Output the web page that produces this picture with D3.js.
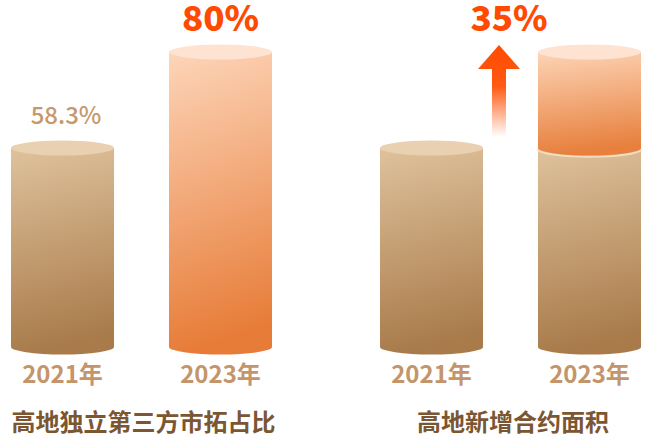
<!DOCTYPE html>
<html><head><meta charset="utf-8">
<script src="https://cdn.jsdelivr.net/npm/d3@7"></script>
<style>
html,body{margin:0;padding:0;background:#fff;}
svg{display:block;}
text{font-family:"Noto Sans CJK SC","Noto Sans",sans-serif;}
</style></head><body>
<svg id="chart" width="652" height="437"></svg>
<script>
// ---- data ----
const years = ["2021年", "2023年"];
const shareTitle = "高地独立第三方市拓占比";
const shareValues = [58.3, 80];
const shareLabels = ["58.3%", "80%"];
const areaTitle = "高地新增合约面积";
const areaValues = [100, 135];      // index, 2021 = 100
const areaGrowthLabel = "35%";

const svg = d3.select("#chart");
const defs = svg.append("defs");

function lin(id, stops) {
  const g = defs.append("linearGradient").attr("id", id)
    .attr("x1", 0).attr("y1", 0).attr("x2", 0.12).attr("y2", 1);
  stops.forEach(s => g.append("stop").attr("offset", s[0]).attr("stop-color", s[1]));
}
lin("tan", [[0, "#dfc29c"], [1, "#a97b4b"]]);
lin("orange", [[0, "#fdd5b9"], [1, "#e77c38"]]);
lin("orangeTop", [[0, "#fdd4b6"], [1, "#e7803d"]]);
defs.append("linearGradient").attr("id", "arrowGrad")
  .attr("x1", 0).attr("y1", 0).attr("x2", 0).attr("y2", 1)
  .call(g => {
    g.append("stop").attr("offset", 0).attr("stop-color", "#ff4a00");
    g.append("stop").attr("offset", 0.45).attr("stop-color", "#ff5a14");
    g.append("stop").attr("offset", 1).attr("stop-color", "#ffffff");
  });

const baseY = 347, topY = 52, ry = 7.5;
const labelColor = "#c4956a";
const titleColor = "#7b5632";

function cylinderBody(x0, x1, yTop, yBot, fill) {
  const rx = (x1 - x0) / 2;
  svg.append("path")
    .attr("d", `M${x0},${yTop} L${x0},${yBot} A${rx},${ry} 0 0 0 ${x1},${yBot} L${x1},${yTop} Z`)
    .attr("fill", fill);
}
function topCap(x0, x1, y, fill) {
  svg.append("ellipse").attr("cx", (x0 + x1) / 2).attr("cy", y)
    .attr("rx", (x1 - x0) / 2).attr("ry", ry).attr("fill", fill);
}
function yearLabel(x, t) {
  svg.append("text").attr("x", x).attr("y", 383)
    .attr("text-anchor", "middle").attr("font-size", 24).attr("font-weight", 700)
    .attr("fill", labelColor).text(t);
}

// ---------- left panel ----------
const xL = d3.scaleBand().domain(years).range([11, 272]).paddingInner(0.348).paddingOuter(0);
const yL = d3.scaleLinear().domain([13.3, 80]).range([baseY, topY]);

years.forEach((yr, i) => {
  const x0 = xL(yr), x1 = x0 + xL.bandwidth();
  const yt = yL(shareValues[i]);
  const isNew = i === 1;
  cylinderBody(x0, x1, yt, baseY, isNew ? "url(#orange)" : "url(#tan)");
  topCap(x0, x1, yt, isNew ? "#fee3d3" : "#e9d0b0");
  yearLabel((x0 + x1) / 2, yr);
  if (isNew) {
    svg.append("text").attr("x", (x0 + x1) / 2).attr("y", 31)
      .attr("text-anchor", "middle").attr("font-size", 35).attr("font-weight", 900)
      .attr("fill", "#ff4a00").text(shareLabels[i]);
  } else {
    svg.append("text").attr("x", (x0 + x1) / 2 + 3.5).attr("y", 124)
      .attr("text-anchor", "middle").attr("font-size", 24).attr("font-weight", 500)
      .attr("fill", "#c6996b").text(shareLabels[i]);
  }
});
svg.append("text").attr("x", 143.5).attr("y", 431)
  .attr("text-anchor", "middle").attr("font-size", 24).attr("font-weight", 700)
  .attr("fill", titleColor).text(shareTitle);

// ---------- right panel ----------
const xR = d3.scaleBand().domain(years).range([380, 641]).paddingInner(0.348).paddingOuter(0);
const yR = d3.scaleLinear().domain([27.4, 135]).range([baseY, topY]);

years.forEach((yr, i) => {
  const x0 = xR(yr), x1 = x0 + xR.bandwidth();
  const yBase = yR(areaValues[0]);
  cylinderBody(x0, x1, yBase, baseY, "url(#tan)");
  if (i === 0) {
    topCap(x0, x1, yBase, "#e9d0b0");
  } else {
    const yt = yR(areaValues[i]);
    const rx = (x1 - x0) / 2;
    svg.append("path")
      .attr("d", `M${x0},${yBase} A${rx},${ry} 0 0 0 ${x1},${yBase}`)
      .attr("transform", "translate(0,1.3)")
      .attr("fill", "none").attr("stroke", "#f3dcc0").attr("stroke-width", 2);
    cylinderBody(x0, x1, yt, yBase, "url(#orangeTop)");
    topCap(x0, x1, yt, "#fee3d3");
  }
  yearLabel((x0 + x1) / 2, yr);
});

// growth arrow between the bars
const gapL = xR(years[0]) + xR.bandwidth(), gapR = xR(years[1]);
const ax = (gapL + gapR) / 2 - 11.5;
const aTop = 45, aHead = 69, aBot = 137, headW = 21, shaftW = 7;
svg.append("path")
  .attr("d", `M${ax},${aTop} L${ax + headW},${aHead} L${ax + shaftW},${aHead} L${ax + shaftW},${aBot} L${ax - shaftW},${aBot} L${ax - shaftW},${aHead} L${ax - headW},${aHead} Z`)
  .attr("fill", "url(#arrowGrad)");

svg.append("text").attr("x", (gapL + gapR) / 2 - 1.5).attr("y", 31)
  .attr("text-anchor", "middle").attr("font-size", 35).attr("font-weight", 900)
  .attr("fill", "#ff4a00").text(areaGrowthLabel);

svg.append("text").attr("x", 513).attr("y", 431)
  .attr("text-anchor", "middle").attr("font-size", 24).attr("font-weight", 700)
  .attr("fill", titleColor).text(areaTitle);
</script>
</body></html>
